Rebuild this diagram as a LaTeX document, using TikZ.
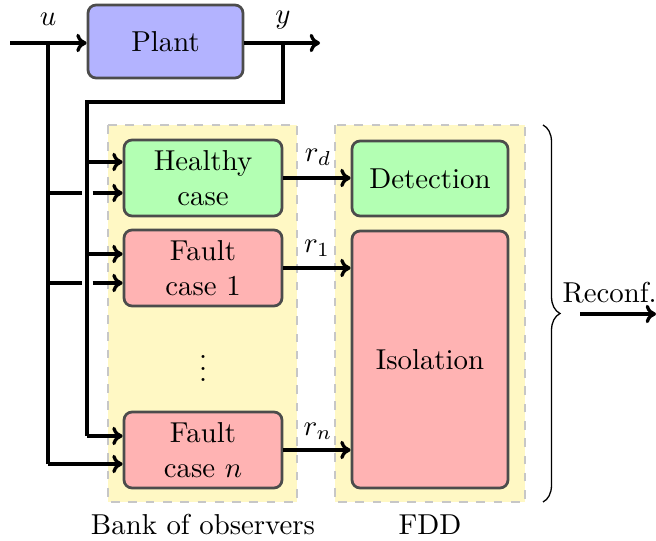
\documentclass[tikz,border=0pt]{standalone}
\usetikzlibrary{arrows.meta,decorations.pathreplacing}
\definecolor{bankyellow}{RGB}{255,248,196}
\definecolor{boxblue}{RGB}{179,179,255}
\definecolor{boxgreen}{RGB}{179,255,179}
\definecolor{boxred}{RGB}{255,179,179}
\def\unitpx{0.3472pt}
\tikzset{
  blockbox/.style={draw=black!70, line width=0.95pt, rounded corners=2.8pt, align=center, inner sep=0pt},
  groupbox/.style={draw=black!22, dashed, line width=0.55pt, fill=bankyellow},
  conn/.style={line width=1.15pt},
  arr/.style={conn, -{To[length=3.6pt,width=6.4pt]}},
  lbl/.style={inner sep=0pt}
}
\begin{document}
\begin{tikzpicture}[x=\unitpx,y=-\unitpx]
\useasboundingbox (0,0) rectangle (656,541);
% group backgrounds
\draw[groupbox] (108,125) rectangle (297,502);
\draw[groupbox] (335,125) rectangle (525,502);
% blocks
\node[blockbox, fill=boxblue, minimum width=155*\unitpx, minimum height=73*\unitpx] (plant) at (165.5,41.5) {Plant};
\node[blockbox, fill=boxgreen, minimum width=158*\unitpx, minimum height=76*\unitpx] (healthy) at (203,178) {Healthy\\case};
\node[blockbox, fill=boxred, minimum width=158*\unitpx, minimum height=76*\unitpx] (fault1) at (203,268) {Fault\\case 1};
\node[blockbox, fill=boxred, minimum width=158*\unitpx, minimum height=76*\unitpx] (faultn) at (203,450) {Fault\\case $n$};
\node[blockbox, fill=boxgreen, minimum width=156*\unitpx, minimum height=75*\unitpx] (detect) at (430,178.5) {Detection};
\node[blockbox, fill=boxred, minimum width=156*\unitpx, minimum height=257*\unitpx] (isol) at (430,359.5) {Isolation};
\node[lbl] (dots) at (203,360) {$\vdots$};
% labels
\node[lbl] (ulbl) at (48,19) {$u$};
\node[lbl] (ylbl) at (283,20) {$y$};
\node[lbl] (rd) at (318,157) {$r_d$};
\node[lbl] (r1) at (317,248) {$r_1$};
\node[lbl] (rn) at (318,431) {$r_n$};
\node[lbl] (bank) at (203,525) {Bank of observers};
\node[lbl] (fdd) at (430,525) {FDD};
% coordinates
\coordinate (uin) at (10,43);
\coordinate (ubr) at (48,43);
\coordinate (yout) at (320,43);
\coordinate (ybr) at (283,43);
% input / output
\draw[arr] (uin) -- (uin -| plant.west);
\draw[arr] (plant.east |- yout) -- (yout);
% u distribution
\draw[conn] (ubr) -- (48,464);
\draw[arr] (48,464) -- (faultn.west |- 0,464);
\draw[conn] (48,193) -- (81.5,193);
\draw[arr] (92.5,193) -- (healthy.west |- 0,193);
\draw[conn] (48,283) -- (81.5,283);
\draw[arr] (92.5,283) -- (fault1.west |- 0,283);
% y distribution
\draw[conn] (ybr) -- (283,102) -- (87,102) -- (87,436);
\draw[arr] (87,436) -- (faultn.west |- 0,436);
\draw[arr] (87,162) -- (healthy.west |- 0,162);
\draw[arr] (87,254) -- (fault1.west |- 0,254);
% residuals
\draw[arr] (healthy.east) -- (detect.west |- healthy.east);
\draw[arr] (fault1.east) -- (isol.west |- fault1.east);
\draw[arr] (faultn.east) -- (isol.west |- faultn.east);
% brace and reconfiguration
\draw[line width=0.45pt, decorate, decoration={brace, amplitude=17*\unitpx}] (543,125) -- (543,502);
\node[lbl, anchor=base west] (reconf) at (562,303) {Reconf.};
\coordinate (rcstart) at (580,314);
\coordinate (rcend) at (656,314);
\draw[arr] (rcstart) -- (rcend);
\end{tikzpicture}
\end{document}
